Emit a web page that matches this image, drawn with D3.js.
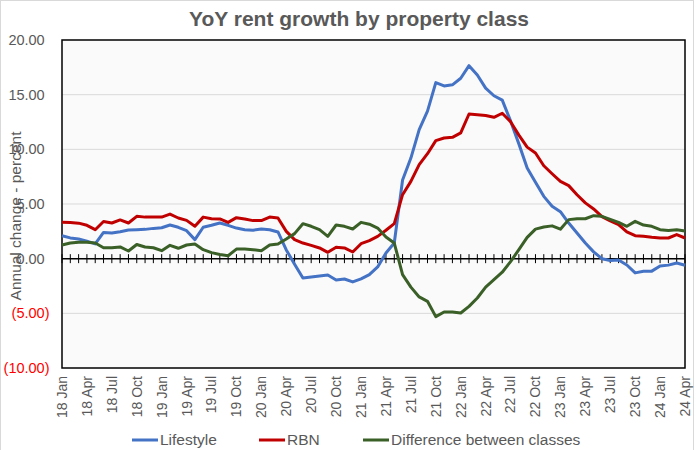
<!DOCTYPE html>
<html>
<head>
<meta charset="utf-8">
<script src="https://cdn.jsdelivr.net/npm/d3@7/dist/d3.min.js"></script>
<style>
  html, body { margin: 0; padding: 0; background: #ffffff; }
  svg { display: block; font-family: "Liberation Sans", Arial, sans-serif; }
</style>
</head>
<body>
<svg id="chart" width="696" height="450"></svg>
<script>
// ---- Data ----
const years = ["18", "19", "20", "21", "22", "23", "24"];
const monthNames = ["Jan","Feb","Mar","Apr","May","Jun","Jul","Aug","Sep","Oct","Nov","Dec"];
const categories = [];
years.forEach(yr => monthNames.forEach(m => categories.push(yr + " " + m)));
categories.length = 76; // Jan 2018 .. Apr 2024

const lifestyle = [
  2.1, 1.9, 1.8, 1.6, 1.35, 2.4, 2.35, 2.47, 2.62, 2.65, 2.68, 2.77,
  2.83, 3.08, 2.87, 2.56, 1.74, 2.87, 3.05, 3.26, 3.05, 2.8, 2.65, 2.6,
  2.71, 2.65, 2.44, 0.8, -0.5, -1.77, -1.68, -1.59, -1.5, -1.95, -1.86, -2.13,
  -1.85, -1.46, -0.76, 0.52, 1.43, 7.2, 9.2, 11.8, 13.5, 16.1, 15.8, 15.9,
  16.5, 17.65, 16.8, 15.6, 14.9, 14.5, 12.6, 10.5, 8.3, 7.0, 5.7, 4.8,
  4.3, 3.26, 2.35, 1.43, 0.62, 0.0, -0.17, -0.12, -0.58, -1.3, -1.16, -1.14,
  -0.67, -0.59, -0.4, -0.6
];
const rbn = [
  3.32, 3.3, 3.25, 3.05, 2.65, 3.4, 3.26, 3.54, 3.26, 3.87, 3.8, 3.8,
  3.8, 4.08, 3.72, 3.5, 2.96, 3.8, 3.65, 3.63, 3.32, 3.75, 3.63, 3.48,
  3.48, 3.81, 3.72, 2.5, 1.74, 1.43, 1.22, 0.98, 0.58, 1.04, 0.98, 0.61,
  1.37, 1.65, 2.04, 2.6, 3.2, 5.85, 7.07, 8.6, 9.6, 10.8, 11.04, 11.1,
  11.5, 13.23, 13.17, 13.1, 12.93, 13.3, 12.53, 11.3, 10.2, 9.66, 8.5, 7.77,
  7.07, 6.68, 5.85, 5.1, 4.55, 3.85, 3.45, 3.12, 2.45, 2.1, 2.04, 1.95,
  1.89, 1.89, 2.2, 1.89
];
const difference = [
  1.25, 1.43, 1.5, 1.5, 1.43, 1.0, 1.0, 1.07, 0.7, 1.3, 1.07, 1.0,
  0.73, 1.22, 0.95, 1.25, 1.34, 0.82, 0.55, 0.38, 0.27, 0.88, 0.88, 0.82,
  0.73, 1.25, 1.34, 1.8, 2.29, 3.2, 2.96, 2.65, 2.04, 3.08, 2.96, 2.71,
  3.32, 3.15, 2.8, 1.98, 1.43, -1.46, -2.6, -3.5, -3.9, -5.3, -4.88, -4.88,
  -4.97, -4.36, -3.6, -2.6, -1.92, -1.24, -0.27, 0.82, 1.95, 2.7, 2.9, 3.0,
  2.7, 3.57, 3.66, 3.65, 3.93, 3.87, 3.6, 3.32, 2.96, 3.41, 3.07, 2.96,
  2.65, 2.58, 2.65, 2.53
];
const yTicks = [-10, -5, 0, 5, 10, 15, 20];
const xTickLabels = categories.filter((c, i) => i % 3 === 0);

const seriesNames = ["Lifestyle", "RBN", "Difference between classes"];
const seriesColors = ["#4472C4", "#C00000", "#3A5F27"];
const seriesData = [lifestyle, rbn, difference];

// ---- Layout ----
const svg = d3.select("#chart");
const pLeft = 62, pRight = 685, pTop = 40, pBottom = 368;
const grey = "#595959";

svg.append("rect").attr("x", 0.5).attr("y", 0.5).attr("width", 693).attr("height", 470)
  .attr("fill", "#ffffff").attr("stroke", "#d9d9d9").attr("stroke-width", 1);

const x = d3.scalePoint().domain(categories).range([pLeft, pRight]).padding(0);
const y = d3.scaleLinear().domain([-10, 20]).range([pBottom, pTop]);

// plot area
svg.append("rect").attr("x", pLeft).attr("y", pTop).attr("width", pRight - pLeft).attr("height", pBottom - pTop)
  .attr("fill", "#fafafa");

// gridlines
svg.append("g").selectAll("line").data(yTicks.filter(t => t !== 0 && t !== -10 && t !== 20)).join("line")
  .attr("x1", pLeft).attr("x2", pRight).attr("y1", d => y(d)).attr("y2", d => y(d))
  .attr("stroke", "#d9d9d9").attr("stroke-width", 1);

// y tick labels
const fmt = d3.format(".2f");
svg.append("g").selectAll("text").data(yTicks).join("text")
  .attr("x", d => d < 0 ? 49.5 : 44.7)
  .attr("y", d => y(d))
  .attr("dy", "0.35em")
  .attr("text-anchor", "end")
  .attr("font-size", "14.5px")
  .attr("fill", d => d < 0 ? "#FF0000" : grey)
  .text(d => d < 0 ? "(" + fmt(-d) + ")" : fmt(d));

// y axis title
svg.append("text")
  .attr("transform", "translate(21,216) rotate(-90)")
  .attr("text-anchor", "middle")
  .attr("font-size", "15.5px")
  .attr("fill", grey)
  .text("Annual change - percent");

// zero axis with ticks
const axisG = svg.append("g").attr("transform", `translate(0,${y(0)})`);
axisG.append("line").attr("x1", pLeft).attr("x2", pRight).attr("stroke", "#000").attr("stroke-width", 1.5);
axisG.selectAll("line.tk").data(categories).join("line").attr("class", "tk")
  .attr("x1", d => x(d)).attr("x2", d => x(d)).attr("y1", -4.5).attr("y2", 4.5)
  .attr("stroke", "#000").attr("stroke-width", 1);

// plot border
svg.append("rect").attr("x", pLeft).attr("y", pTop).attr("width", pRight - pLeft).attr("height", pBottom - pTop)
  .attr("fill", "none").attr("stroke", "#000").attr("stroke-width", 1.5);

// x labels
svg.append("g").selectAll("text").data(xTickLabels).join("text")
  .attr("transform", d => `translate(${x(d)},${pBottom + 8}) rotate(-90)`)
  .attr("dy", "0.35em")
  .attr("text-anchor", "end")
  .attr("font-size", "14px")
  .attr("fill", grey)
  .text(d => d);

// lines
const line = d3.line().x((d, i) => x(categories[i])).y(d => y(d));
seriesData.forEach((s, k) => {
  svg.append("path").datum(s)
    .attr("d", line)
    .attr("fill", "none")
    .attr("stroke", seriesColors[k])
    .attr("stroke-width", 3)
    .attr("stroke-linejoin", "round");
});

// title
svg.append("text").attr("x", 359).attr("y", 26)
  .attr("text-anchor", "middle").attr("font-size", "21px").attr("font-weight", "bold")
  .attr("fill", grey).text("YoY rent growth by property class");

// legend
const legendX = [132, 259, 363];
const lg = svg.append("g").selectAll("g").data(seriesNames).join("g")
  .attr("transform", (d, i) => `translate(${legendX[i]},440)`);
lg.append("line").attr("x1", 0).attr("x2", 26).attr("stroke", (d, i) => seriesColors[i]).attr("stroke-width", 3);
lg.append("text").attr("x", 28).attr("dy", "0.35em").attr("font-size", "15.5px").attr("fill", grey).text(d => d);
</script>
</body>
</html>
